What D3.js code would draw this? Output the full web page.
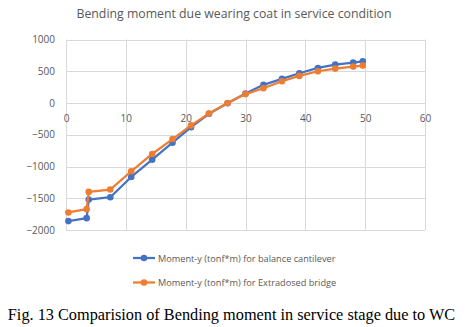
<!DOCTYPE html>
<html>
<head>
<meta charset="utf-8">
<script src="https://cdn.jsdelivr.net/npm/d3@7"></script>
<style>
  html, body { margin: 0; padding: 0; background: #fff; }
  svg { display: block; }
</style>
</head>
<body>
<svg id="chart" width="468" height="327"></svg>
<script>
// Station along the span (m)
const stations = [0.4, 3.45, 3.8, 7.4, 10.9, 14.4, 17.8, 20.9, 23.9, 27.0, 30.0, 33.0, 36.1, 39.0, 42.1, 45.0, 48.0, 49.6];
// Moment-y (tonf*m), balance cantilever
const balanceCantilever = [-1860, -1813, -1520, -1484, -1165, -892, -625, -380, -170, -3, 150, 286, 380, 468, 552, 604, 636, 656];
// Moment-y (tonf*m), extradosed bridge
const extradosed = [-1724, -1672, -1400, -1363, -1075, -803, -568, -353, -165, 0, 140, 233, 343, 427, 500, 542, 573, 589];

const xTicks = [0, 10, 20, 30, 40, 50, 60];
const yTicks = [1000, 500, 0, -500, -1000, -1500, -2000];

const titleText = "Bending moment due wearing coat in service condition";
const captionText = "Fig. 13 Comparision of Bending moment in service stage due to WC";
const seriesNames = ["Moment-y (tonf*m) for balance cantilever", "Moment-y (tonf*m) for Extradosed bridge"];
const seriesColors = ["#4472C4", "#ED7D31"];

const svg = d3.select("#chart");
const plot = { left: 66, right: 425, top: 39.5, bottom: 230 };

const x = d3.scaleLinear().domain([0, 60]).range([plot.left, plot.right]);
const y = d3.scaleLinear().domain([-2000, 1000]).range([plot.bottom, plot.top]);

const textColor = "#595959";
const uiFont = "'Open Sans', 'Noto Sans', sans-serif";

// Title
svg.append("text")
  .attr("x", 234).attr("y", 18)
  .attr("text-anchor", "middle")
  .attr("font-family", uiFont)
  .attr("font-size", 12.3)
  .attr("fill", textColor)
  .text(titleText);

// Gridlines
const grid = svg.append("g").attr("stroke", "#d9d9d9").attr("stroke-width", 1);
grid.selectAll("line.h").data(yTicks).join("line")
  .attr("x1", plot.left).attr("x2", plot.right)
  .attr("y1", d => Math.round(y(d)) + 0.5).attr("y2", d => Math.round(y(d)) + 0.5);
grid.selectAll("line.v").data(xTicks).join("line")
  .attr("y1", plot.top).attr("y2", plot.bottom)
  .attr("x1", d => Math.round(x(d)) + 0.5).attr("x2", d => Math.round(x(d)) + 0.5);

// Y axis labels
const yAxis = d3.axisLeft(y).tickValues(yTicks).tickSize(0).tickPadding(11).tickFormat(d3.format("d"));
svg.append("g").attr("transform", `translate(${plot.left},0)`).call(yAxis)
  .call(g => g.select(".domain").remove())
  .call(g => g.selectAll("text").attr("font-family", uiFont).attr("font-size", 10).attr("fill", textColor));

// X axis labels, sitting on the zero line
const xAxis = d3.axisBottom(x).tickValues(xTicks).tickSize(0).tickPadding(12).tickFormat(d3.format("d"));
svg.append("g").attr("transform", `translate(0,${y(0)})`).call(xAxis)
  .call(g => g.select(".domain").remove())
  .call(g => g.selectAll("text").attr("font-family", uiFont).attr("font-size", 10).attr("fill", textColor));

// Series
const series = [balanceCantilever, extradosed];
const line = d3.line().x((d, i) => x(stations[i])).y(d => y(d));

series.forEach((vals, s) => {
  const g = svg.append("g");
  g.append("path")
    .datum(vals)
    .attr("d", line)
    .attr("fill", "none")
    .attr("stroke", seriesColors[s])
    .attr("stroke-width", 2.25)
    .attr("stroke-linejoin", "round");
  g.selectAll("circle").data(vals).join("circle")
    .attr("cx", (d, i) => x(stations[i]))
    .attr("cy", d => y(d))
    .attr("r", 3.3)
    .attr("fill", seriesColors[s]);
});

// Legend
const legend = svg.append("g");
seriesNames.forEach((name, i) => {
  const ly = 258 + i * 24.5;
  legend.append("line")
    .attr("x1", 133).attr("x2", 155).attr("y1", ly).attr("y2", ly)
    .attr("stroke", seriesColors[i]).attr("stroke-width", 2.25);
  legend.append("circle").attr("cx", 144).attr("cy", ly).attr("r", 3.3).attr("fill", seriesColors[i]);
  legend.append("text")
    .attr("x", 158).attr("y", ly + 3.5)
    .attr("font-family", uiFont).attr("font-size", 9.2)
    .attr("fill", textColor)
    .text(name);
});

// Figure caption
svg.append("text")
  .attr("x", 231.5).attr("y", 319.5)
  .attr("text-anchor", "middle")
  .attr("font-family", "'Liberation Serif', 'DejaVu Serif', serif")
  .attr("font-size", 16.3)
  .attr("fill", "#000")
  .text(captionText);
</script>
</body>
</html>
